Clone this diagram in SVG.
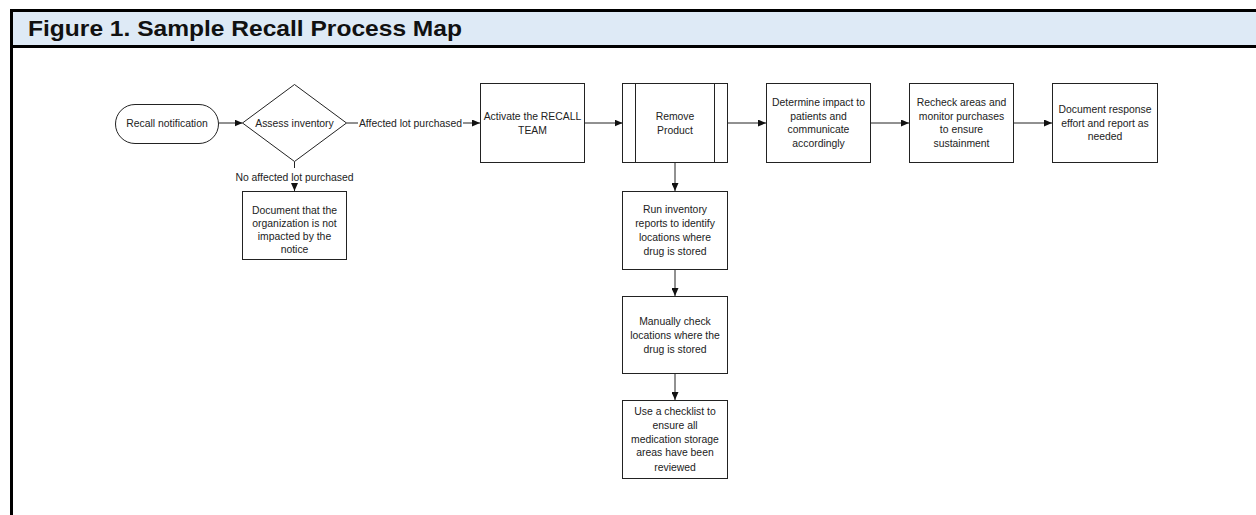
<svg xmlns="http://www.w3.org/2000/svg" width="1256" height="515" viewBox="0 0 1256 515">
<defs>
<marker id="ah" markerUnits="userSpaceOnUse" markerWidth="8" markerHeight="7" refX="8" refY="3.5" orient="auto">
<path d="M0,0 L8,3.5 L0,7 z" fill="#111"/>
</marker>
</defs>
<style>
.n{fill:#fff;stroke:#222;stroke-width:1}
.t{font-family:"Liberation Sans",Arial,sans-serif;font-size:10.4px;fill:#222;text-anchor:middle}
.c{fill:none;stroke:#222;stroke-width:1}
.a{marker-end:url(#ah)}
</style>
<rect x="0" y="0" width="1256" height="515" fill="#fff"/>
<g id="frame">
<rect x="11.5" y="10.5" width="1250" height="36" fill="#DEEAF6" stroke="#000" stroke-width="3"/>
<line x1="11.5" y1="46" x2="11.5" y2="515" stroke="#000" stroke-width="3"/>
<text x="28" y="36" font-family="'Liberation Sans',Arial,sans-serif" font-size="21.5" font-weight="bold" fill="#111" textLength="434" lengthAdjust="spacingAndGlyphs">Figure 1. Sample Recall Process Map</text>
</g>
<g id="connectors">
<path class="c a" d="M219,123 H242.5"/>
<path class="c" d="M346.5,123 H358"/>
<path class="c a" d="M463,123 H480"/>
<path class="c" d="M294.5,161.5 V168"/>
<path class="c a" d="M294.5,184 V191"/>
<path class="c a" d="M584.5,123 H622.5"/>
<path class="c a" d="M727.5,123 H766"/>
<path class="c a" d="M870.5,123 H909"/>
<path class="c a" d="M1013.5,123 H1052"/>
<path class="c a" d="M675,163 V191"/>
<path class="c a" d="M675,269.5 V296"/>
<path class="c a" d="M675,373.5 V400"/>
<text class="t" x="410.5" y="126.7">Affected lot purchased</text>
<text class="t" x="294.5" y="180.9">No affected lot purchased</text>
</g>
<g id="recall-notification">
<rect class="n" x="115.5" y="104.5" width="103" height="39" rx="19.5"/>
<text class="t" x="167" y="126.7">Recall notification</text>
</g>
<g id="assess-inventory">
<polygon class="n" points="294.5,84.5 346.5,123 294.5,161.5 242.5,123"/>
<text class="t" x="294.5" y="126.7">Assess inventory</text>
</g>
<g id="document-not-impacted">
<rect class="n" x="242.5" y="191.5" width="104" height="68"/>
<text class="t" x="294.5" y="213.7">Document that the</text>
<text class="t" x="294.5" y="226.9">organization is not</text>
<text class="t" x="294.5" y="240.1">impacted by the</text>
<text class="t" x="294.5" y="253.3">notice</text>
</g>
<g id="activate-team">
<rect class="n" x="480.5" y="83.5" width="104" height="79"/>
<text class="t" x="532.5" y="119.7">Activate the RECALL</text>
<text class="t" x="532.5" y="133.7">TEAM</text>
</g>
<g id="remove-product">
<rect class="n" x="622.5" y="83.5" width="105" height="79"/>
<line class="c" x1="635.5" y1="83.5" x2="635.5" y2="162.5"/>
<line class="c" x1="714.5" y1="83.5" x2="714.5" y2="162.5"/>
<text class="t" x="675" y="119.7">Remove</text>
<text class="t" x="675" y="133.7">Product</text>
</g>
<g id="determine-impact">
<rect class="n" x="766.5" y="83.5" width="104" height="79"/>
<text class="t" x="818.5" y="106.4">Determine impact to</text>
<text class="t" x="818.5" y="119.8">patients and</text>
<text class="t" x="818.5" y="133.4">communicate</text>
<text class="t" x="818.5" y="147">accordingly</text>
</g>
<g id="recheck-areas">
<rect class="n" x="909.5" y="83.5" width="104" height="79"/>
<text class="t" x="961.5" y="106.4">Recheck areas and</text>
<text class="t" x="961.5" y="119.8">monitor purchases</text>
<text class="t" x="961.5" y="133.4">to ensure</text>
<text class="t" x="961.5" y="147">sustainment</text>
</g>
<g id="document-response">
<rect class="n" x="1052.5" y="83.5" width="105" height="79"/>
<text class="t" x="1105" y="113">Document response</text>
<text class="t" x="1105" y="127">effort and report as</text>
<text class="t" x="1105" y="140.4">needed</text>
</g>
<g id="run-inventory-reports">
<rect class="n" x="622.5" y="191.5" width="105" height="78"/>
<text class="t" x="675" y="213">Run inventory</text>
<text class="t" x="675" y="227">reports to identify</text>
<text class="t" x="675" y="241">locations where</text>
<text class="t" x="675" y="255">drug is stored</text>
</g>
<g id="manually-check">
<rect class="n" x="622.5" y="296.5" width="105" height="77"/>
<text class="t" x="675" y="325.4">Manually check</text>
<text class="t" x="675" y="339.2">locations where the</text>
<text class="t" x="675" y="353">drug is stored</text>
</g>
<g id="use-checklist">
<rect class="n" x="622.5" y="400.5" width="105" height="78"/>
<text class="t" x="675" y="415.4">Use a checklist to</text>
<text class="t" x="675" y="429.4">ensure all</text>
<text class="t" x="675" y="443">medication storage</text>
<text class="t" x="675" y="456.4">areas have been</text>
<text class="t" x="675" y="470.6">reviewed</text>
</g>
</svg>
